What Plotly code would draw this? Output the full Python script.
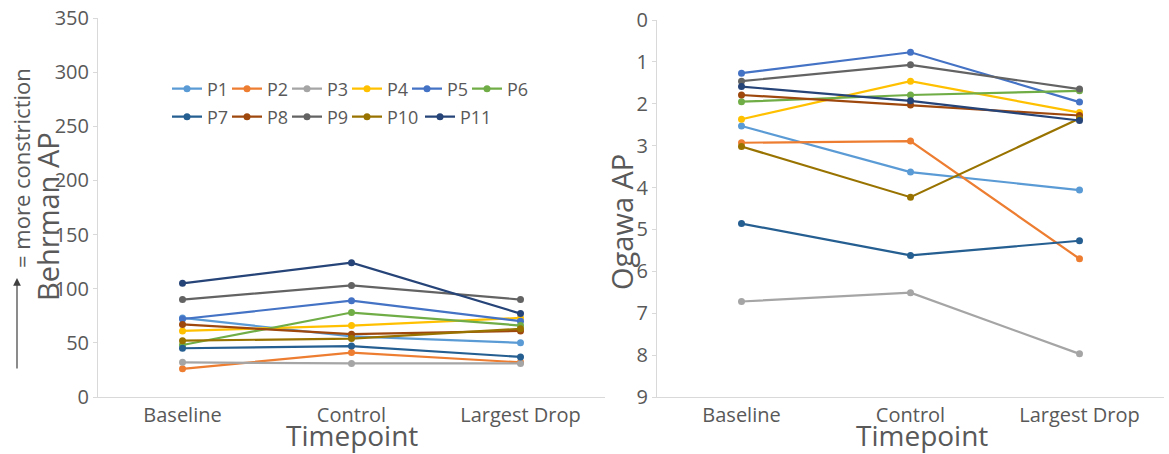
import plotly.graph_objects as go

W, H = 1169, 454

timepoints = ["Baseline", "Control", "Largest Drop"]
participants = ["P1", "P2", "P3", "P4", "P5", "P6", "P7", "P8", "P9", "P10", "P11"]
colors = ["#5B9BD5", "#ED7D31", "#A5A5A5", "#FFC000", "#4472C4", "#70AD47",
          "#255E91", "#9E480E", "#636363", "#997300", "#264478"]

behrman_P1 = [73, 56, 50]
behrman_P2 = [26, 41, 32]
behrman_P3 = [32, 31, 31]
behrman_P4 = [61, 66, 73]
behrman_P5 = [72, 89, 70]
behrman_P6 = [48, 78, 66]
behrman_P7 = [45, 47, 37]
behrman_P8 = [67, 58, 61]
behrman_P9 = [90, 103, 90]
behrman_P10 = [52, 54, 63]
behrman_P11 = [105, 124, 77]

ogawa_P1 = [2.53, 3.63, 4.06]
ogawa_P2 = [2.93, 2.89, 5.70]
ogawa_P3 = [6.72, 6.51, 7.97]
ogawa_P4 = [2.37, 1.46, 2.21]
ogawa_P5 = [1.27, 0.77, 1.96]
ogawa_P6 = [1.95, 1.79, 1.69]
ogawa_P7 = [4.86, 5.62, 5.27]
ogawa_P8 = [1.79, 2.03, 2.28]
ogawa_P9 = [1.46, 1.07, 1.65]
ogawa_P10 = [3.02, 4.23, 2.35]
ogawa_P11 = [1.59, 1.93, 2.40]

behrman = [behrman_P1, behrman_P2, behrman_P3, behrman_P4, behrman_P5, behrman_P6,
           behrman_P7, behrman_P8, behrman_P9, behrman_P10, behrman_P11]
ogawa = [ogawa_P1, ogawa_P2, ogawa_P3, ogawa_P4, ogawa_P5, ogawa_P6,
         ogawa_P7, ogawa_P8, ogawa_P9, ogawa_P10, ogawa_P11]

FONT = "Open Sans"
GREY = "#595959"
AXIS = "#D9D9D9"

fig = go.Figure()
for i, name in enumerate(participants):
    leg = "legend" if i < 6 else "legend2"
    if name == "P10":
        lw = 28
    elif name in ("P6", "P11"):
        lw = None
    else:
        lw = 15
    fig.add_trace(go.Scatter(
        x=timepoints, y=behrman[i], name=name, mode="lines+markers",
        line=dict(color=colors[i], width=2.2), marker=dict(size=7, color=colors[i]),
        xaxis="x", yaxis="y", legend=leg, legendgroup=name, legendwidth=lw,
        showlegend=True))
    fig.add_trace(go.Scatter(
        x=timepoints, y=ogawa[i], name=name, mode="lines+markers",
        line=dict(color=colors[i], width=2.2), marker=dict(size=7, color=colors[i]),
        xaxis="x2", yaxis="y2", legendgroup=name, showlegend=False))

def px(x):
    return x / W

def py(y):
    return 1 - y / H

axis_common = dict(showgrid=False, zeroline=False, showline=True, linecolor=AXIS,
                   linewidth=1, automargin=False,
                   tickfont=dict(family=FONT, size=20, color=GREY))

fig.update_layout(
    width=W, height=H,
    margin=dict(l=0, r=0, t=0, b=0, autoexpand=False),
    paper_bgcolor="white", plot_bgcolor="white",
    font=dict(family=FONT, color=GREY),
    xaxis=dict(domain=[px(98), px(605)], type="category", anchor="y",
               range=[-0.5, 2.5], ticks="", **axis_common),
    yaxis=dict(domain=[py(397), py(18)], anchor="x", range=[0, 350], dtick=50,
               ticks="outside", ticklen=4, tickcolor=AXIS, **axis_common),
    xaxis2=dict(domain=[px(657), px(1164)], type="category", anchor="y2",
                range=[-0.5, 2.5], ticks="", **axis_common),
    yaxis2=dict(domain=[py(397), py(20)], anchor="x2", range=[9, 0], dtick=1,
                ticks="outside", ticklen=4, tickcolor=AXIS, **axis_common),
    legend=dict(orientation="h", x=px(167), y=py(89), xanchor="left", yanchor="middle",
                font=dict(family=FONT, size=18, color=GREY), itemwidth=30,
                bgcolor="rgba(0,0,0,0)", tracegroupgap=0),
    legend2=dict(orientation="h", x=px(167), y=py(117), xanchor="left", yanchor="middle",
                 font=dict(family=FONT, size=18, color=GREY), itemwidth=30,
                 bgcolor="rgba(0,0,0,0)", tracegroupgap=0),
    annotations=[
        dict(text="Behrman AP", x=px(47), y=py(217), xref="paper", yref="paper",
             xanchor="center", yanchor="middle",
             textangle=-90, showarrow=False, font=dict(family=FONT, size=29, color=GREY)),
        dict(text="Ogawa AP", x=px(621), y=py(222), xref="paper", yref="paper",
             xanchor="center", yanchor="middle",
             textangle=-90, showarrow=False, font=dict(family=FONT, size=29, color=GREY)),
        dict(text="Timepoint", x=px(352), y=py(435), xref="paper", yref="paper",
             xanchor="center", yanchor="middle",
             showarrow=False, font=dict(family=FONT, size=28, color=GREY)),
        dict(text="Timepoint", x=px(922), y=py(435), xref="paper", yref="paper",
             xanchor="center", yanchor="middle",
             showarrow=False, font=dict(family=FONT, size=28, color=GREY)),
        dict(text="= more constriction", x=px(21), y=py(168), xref="paper", yref="paper",
             xanchor="center", yanchor="middle",
             textangle=-90, showarrow=False, font=dict(family=FONT, size=22, color=GREY)),
        dict(text="", x=px(17), y=py(278), xref="paper", yref="paper",
             showarrow=True, ax=0, ay=92, axref="pixel", ayref="pixel",
             arrowhead=2, arrowsize=1.3, arrowwidth=1.2, arrowcolor="#404040"),
    ],
)

fig.write_html("out.html")
